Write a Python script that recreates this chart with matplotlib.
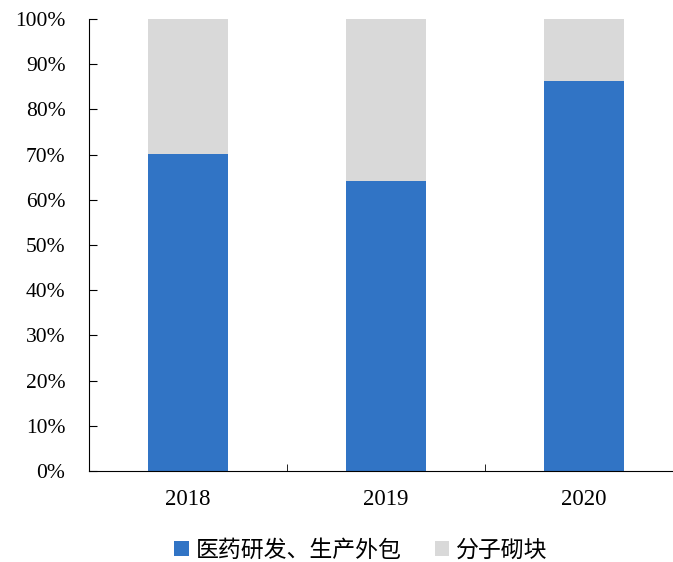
import matplotlib.pyplot as plt
from matplotlib.ticker import PercentFormatter

plt.rcParams['font.family'] = ['Liberation Serif', 'Noto Sans CJK SC']

years = ['2018', '2019', '2020']
cro_cdmo = [70.2, 64.2, 86.3]
building_blocks = [100 - v for v in cro_cdmo]
series_names = ['医药研发、生产外包', '分子砌块']
colors = ['#3174C5', '#D9D9D9']

fig = plt.figure(figsize=(6.73, 5.62), dpi=100)
ax = fig.add_axes([89 / 673, 91 / 562, 594 / 673, 452 / 562])

x = range(len(years))
ax.bar(x, cro_cdmo, width=0.4, color=colors[0], label=series_names[0])
ax.bar(x, building_blocks, width=0.4, bottom=cro_cdmo, color=colors[1], label=series_names[1])

ax.set_xlim(-0.5, 2.5)
ax.set_ylim(0, 100)
ax.set_yticks(range(0, 101, 10))
ax.yaxis.set_major_formatter(PercentFormatter(decimals=0))
ax.set_xticks(list(x))
ax.set_xticklabels(years)
ax.set_xticks([0.5, 1.5], minor=True)
ax.tick_params(axis='x', which='major', length=0, pad=13, labelsize=16.5)
ax.tick_params(axis='x', which='minor', direction='in', length=5)
ax.tick_params(axis='y', direction='in', length=6, pad=17, labelsize=15.5)
ax.spines['top'].set_visible(False)
ax.spines['right'].set_visible(False)

leg = fig.legend(loc='center', bbox_to_anchor=(0.536, 0.021), ncol=2, frameon=False,
                 prop={'family': ['Noto Sans CJK SC'], 'size': 16.5},
                 handlelength=0.62, handleheight=0.62, handletextpad=0.3, columnspacing=1.45)

fig.savefig('out.png', dpi=100)
